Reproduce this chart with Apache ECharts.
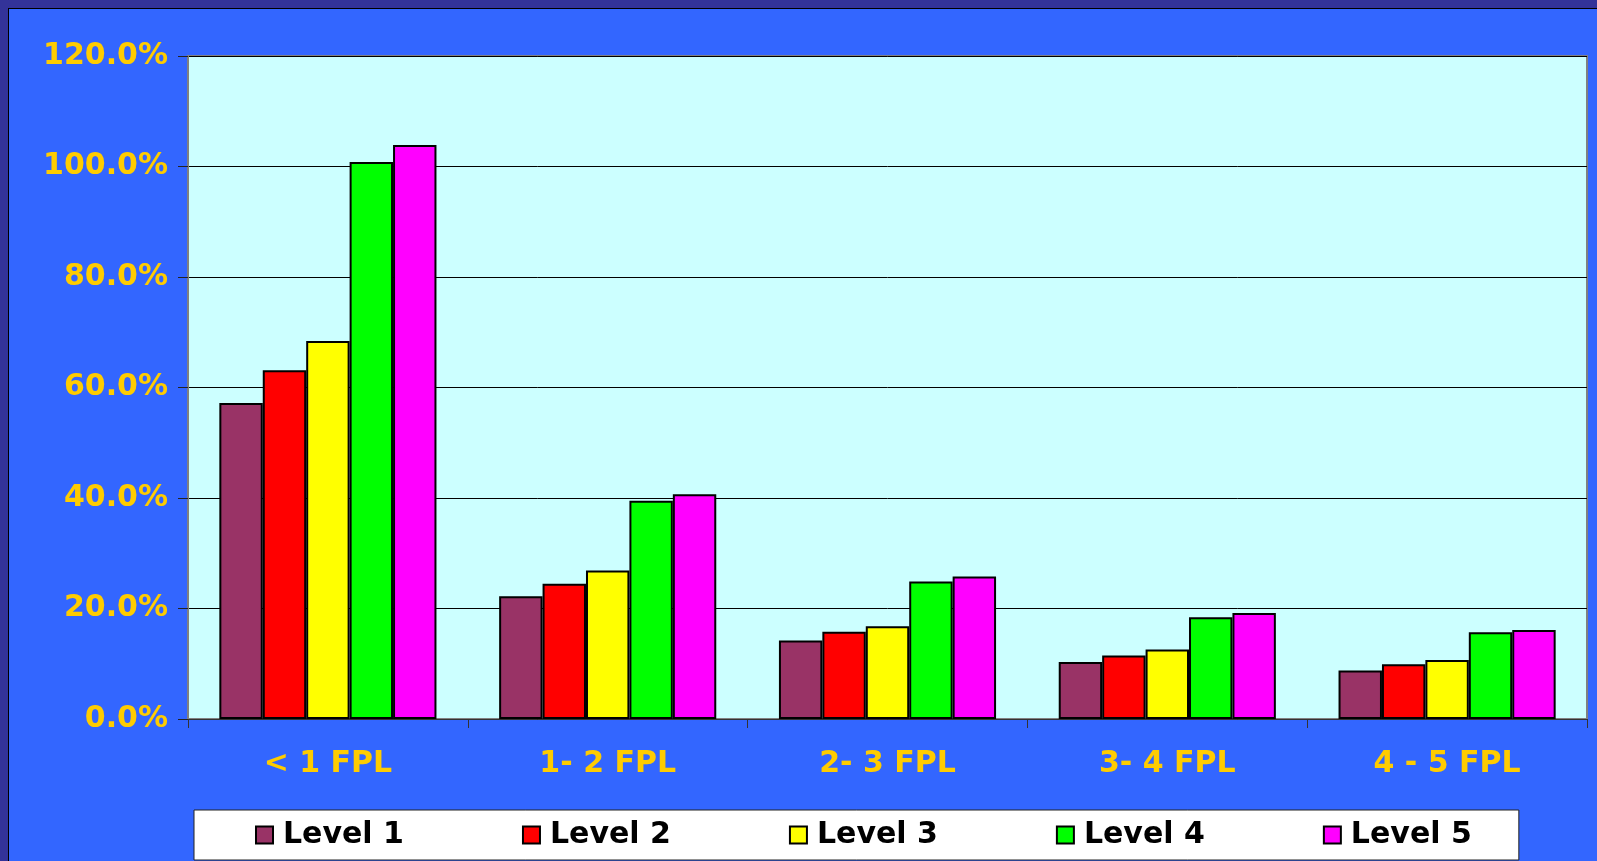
<!DOCTYPE html>
<html>
<head>
<meta charset="utf-8">
<script src="https://cdn.jsdelivr.net/npm/echarts@6/dist/echarts.min.js"></script>
<style>
  html, body { margin: 0; padding: 0; width: 1597px; height: 861px; overflow: hidden; background: #333399; }
  #frame { position: absolute; left: 8px; top: 8px; width: 1588px; height: 852px;
           border-left: 1px solid #000; border-top: 1px solid #000; background: #3366FF; }
  #chart { width: 1588px; height: 852px; }
</style>
</head>
<body>
<div id="frame"><div id="chart"></div></div>
<script>
// Income bands relative to the federal poverty level
const categories = ['< 1 FPL', '1- 2 FPL', '2- 3 FPL', '3- 4 FPL', '4 - 5 FPL'];

// Percentages for each level, one value per income band
const level1 = [57.2, 22.2, 14.2, 10.3, 8.8];
const level2 = [63.1, 24.5, 15.8, 11.5, 9.9];
const level3 = [68.4, 26.9, 16.8, 12.6, 10.7];
const level4 = [100.8, 39.5, 24.9, 18.4, 15.7];
const level5 = [103.9, 40.7, 25.8, 19.2, 16.1];

const seriesNames = ['Level 1', 'Level 2', 'Level 3', 'Level 4', 'Level 5'];
const seriesData = [level1, level2, level3, level4, level5];
const seriesColors = ['#993366', '#FF0000', '#FFFF00', '#00FF00', '#FF00FF'];

// Value axis range and step
const yMin = 0, yMax = 120, yStep = 20;

const labelFont = 'DejaVu Sans';
const chart = echarts.init(document.getElementById('chart'), null, { renderer: 'canvas' });

chart.setOption({
  animation: false,
  backgroundColor: '#3366FF',
  grid: {
    left: 179, top: 47, right: 10, bottom: 142,
    show: true,
    backgroundColor: '#CCFFFF',
    borderColor: '#808080',
    borderWidth: 2
  },
  legend: {
    data: seriesNames,
    left: 185,
    top: 801,
    orient: 'horizontal',
    backgroundColor: '#FFFFFF',
    borderColor: '#222222',
    borderWidth: 1,
    borderRadius: 0,
    padding: [8, 47, 8, 61],
    itemWidth: 17,
    itemHeight: 17,
    itemGap: 118,
    icon: 'rect',
    itemStyle: { borderColor: '#000000', borderWidth: 2 },
    textStyle: {
      fontFamily: labelFont, fontWeight: 'bold', fontSize: 30, color: '#000000',
      padding: [2, 0, 0, 5], lineHeight: 32
    }
  },
  xAxis: {
    type: 'category',
    data: categories,
    boundaryGap: true,
    axisLine: { show: true, lineStyle: { color: '#333333', width: 1 } },
    axisTick: { show: true, length: 9, lineStyle: { color: '#333333', width: 1 } },
    axisLabel: {
      margin: 30,
      fontFamily: labelFont, fontWeight: 'bold', fontSize: 30, color: '#FFCC00'
    },
    splitLine: { show: false }
  },
  yAxis: {
    type: 'value',
    min: yMin, max: yMax, interval: yStep,
    axisLine: { show: true, lineStyle: { color: '#808080', width: 2 } },
    axisTick: { show: true, length: 10, lineStyle: { color: '#222222', width: 1 } },
    axisLabel: {
      margin: 20,
      padding: [4, 0, 0, 0],
      fontFamily: labelFont, fontWeight: 'bold', fontSize: 30, color: '#FFCC00',
      formatter: v => v.toFixed(1) + '%'
    },
    splitLine: { show: true, lineStyle: { color: '#000000', width: 1 } }
  },
  series: seriesNames.map((name, i) => ({
    name: name,
    type: 'bar',
    data: seriesData[i],
    barGap: '0%',
    barCategoryGap: '22.4%',
    itemStyle: { color: seriesColors[i], borderColor: '#000000', borderWidth: 2 }
  }))
});
</script>
</body>
</html>
